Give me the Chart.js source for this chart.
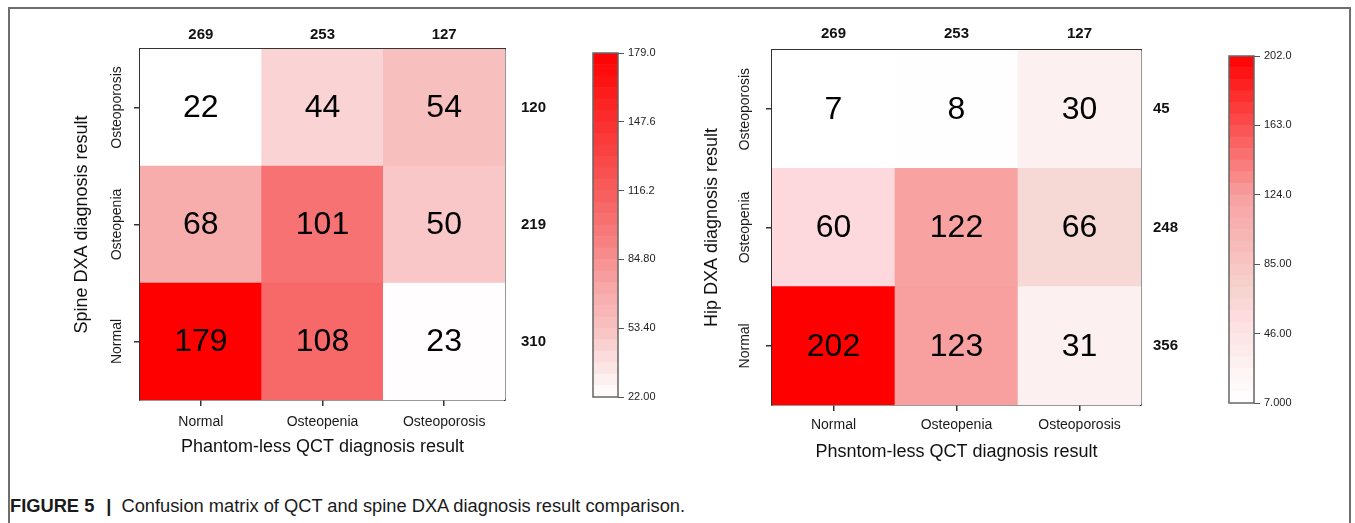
<!DOCTYPE html>
<html>
<head>
<meta charset="utf-8">
<script src="https://cdn.jsdelivr.net/npm/chart.js@4.4.1/dist/chart.umd.min.js"></script>
<style>
  html, body { margin:0; padding:0; background:#fff; width:1355px; height:523px; overflow:hidden; }
  body { position:relative; font-family:"Liberation Sans", Arial, sans-serif; }
  #frame { position:absolute; left:8px; top:7px; width:1339px; height:540px; border:2px solid #6e6e6e; border-bottom:none; background:#fff; }
  .cv { position:absolute; }
  #caption { position:absolute; left:10px; top:495px; font-size:18.3px; color:#1a1a1a; white-space:nowrap; }
  #caption b { font-weight:bold; }
  #caption .bar { font-weight:bold; margin:0 10px 0 12px; }
</style>
</head>
<body>
<div id="frame"></div>
<div class="cv" style="left:0;top:0;width:560px;height:480px;"><canvas id="h1"></canvas></div>
<div class="cv" style="left:580px;top:30px;width:90px;height:390px;"><canvas id="c1"></canvas></div>
<div class="cv" style="left:640px;top:0;width:580px;height:480px;"><canvas id="h2"></canvas></div>
<div class="cv" style="left:1216px;top:30px;width:90px;height:400px;"><canvas id="c2"></canvas></div>
<div id="caption"><b>FIGURE 5</b><span class="bar">|</span>Confusion matrix of QCT and spine DXA diagnosis result comparison.</div>
<script>
// ---------------- DATA ----------------
const qctCategories = ['Normal', 'Osteopenia', 'Osteoporosis'];     // columns (x)
const dxaCategories = ['Normal', 'Osteopenia', 'Osteoporosis'];     // rows (y, bottom to top)

// Spine DXA (rows) vs phantom-less QCT (columns)
const spineNormal       = [179, 108, 23];
const spineOsteopenia   = [68, 101, 50];
const spineOsteoporosis = [22, 44, 54];
const spineColTotals = ['269', '253', '127'];
const spineRowTotals = ['310', '219', '120'];
const spineBarTicks  = [22, 53.4, 84.8, 116.2, 147.6, 179];
const spineBarLabels = ['22.00', '53.40', '84.80', '116.2', '147.6', '179.0'];

// Hip DXA (rows) vs phantom-less QCT (columns)
const hipNormal       = [202, 123, 31];
const hipOsteopenia   = [60, 122, 66];
const hipOsteoporosis = [7, 8, 30];
const hipColTotals = ['269', '253', '127'];
const hipRowTotals = ['356', '248', '45'];
const hipBarTicks  = [7, 46, 85, 124, 163, 202];
const hipBarLabels = ['7.000', '46.00', '85.00', '124.0', '163.0', '202.0'];

// ---------------- STYLE ----------------
const FONT = '"Liberation Sans", Arial, sans-serif';
Chart.defaults.font.family = FONT;
Chart.defaults.color = '#1a1a1a';
Chart.defaults.animation = false;

// colour ramps (t in 0..1 -> rgb)
const spineRamp = [[0,255,255,255],[0.14,250,212,212],[0.2,248,192,192],[0.29,248,174,174],[0.5,247,115,115],[0.55,247,104,104],[1,255,0,0]];
const hipRamp   = [[0,255,255,255],[0.12,253,240,240],[0.27,253,216,220],[0.30,246,216,212],[0.59,248,162,162],[1,255,0,0]];

function rampColor(ramp, t) {
  t = Math.max(0, Math.min(1, t));
  for (let i = 1; i < ramp.length; i++) {
    if (t <= ramp[i][0]) {
      const a = ramp[i-1], b = ramp[i];
      const f = (t - a[0]) / (b[0] - a[0] || 1);
      const c = [1,2,3].map(k => Math.round(a[k] + (b[k]-a[k]) * f));
      return `rgb(${c[0]},${c[1]},${c[2]})`;
    }
  }
  const l = ramp[ramp.length-1];
  return `rgb(${l[1]},${l[2]},${l[3]})`;
}

const cellTextPlugin = {
  id: 'cellText',
  afterDatasetsDraw(chart) {
    const ctx = chart.ctx;
    ctx.save();
    ctx.font = `32px ${FONT}`;
    ctx.fillStyle = '#000';
    ctx.textAlign = 'center';
    ctx.textBaseline = 'middle';
    chart.data.datasets.forEach((ds, di) => {
      chart.getDatasetMeta(di).data.forEach((el, ci) => {
        const p = el.getCenterPoint();
        ctx.fillText(String(ds.cellValues[ci]), p.x, p.y + 1);
      });
    });
    ctx.restore();
  }
};

const frameRectPlugin = {
  id: 'frameRect',
  afterDraw(chart, args, opts) {
    if (!opts || !opts.on) return;
    const a = chart.chartArea, ctx = chart.ctx;
    ctx.save();
    ctx.strokeStyle = opts.color || '#555';
    ctx.lineWidth = opts.width || 1.5;
    ctx.strokeRect(a.left, a.top, a.right - a.left, a.bottom - a.top);
    ctx.restore();
  }
};

function heatmap(id, rows, rowLabels, colLabels, colTotals, rowTotals, ramp, vmin, vmax, yTitle, xTitle, L) {
  const centers = rowLabels.map((_, i) => i + 0.5);
  const datasets = rows.map((vals, r) => ({
    label: rowLabels[r],
    data: vals.map(() => 1),
    cellValues: vals,
    backgroundColor: vals.map(v => rampColor(ramp, (v - vmin) / (vmax - vmin))),
    borderWidth: 0,
    barPercentage: 1,
    categoryPercentage: 1,
    xAxisID: 'x',
    yAxisID: 'y'
  }));
  return new Chart(document.getElementById(id), {
    type: 'bar',
    data: { labels: colLabels, datasets },
    options: {
      responsive: true, maintainAspectRatio: false,
      layout: { padding: { left: L.padLeft, right: L.padRight, top: L.padTop, bottom: L.padBottom } },
      plugins: { legend: { display: false }, tooltip: { enabled: false }, frameRect: { on: false } },
      scales: {
        x: {
          type: 'category', position: 'bottom', stacked: true, offset: true,
          grid: { display: true, drawOnChartArea: false, drawTicks: true, tickLength: 6, offset: false, color: '#333', lineWidth: 1.5 },
          border: { display: true, color: '#333', width: 1.5 },
          ticks: { font: { size: 14 }, color: '#1a1a1a', padding: L.xPad, maxRotation: 0 },
          title: { display: true, text: xTitle, font: { size: 18 }, color: '#111', padding: 0 },
          afterFit: s => { s.height = L.xH; }
        },
        x2: {
          type: 'category', position: 'top', labels: colTotals, offset: true,
          grid: { display: false, drawTicks: false },
          border: { display: true, color: '#333', width: 1.5 },
          ticks: { font: { size: 15, weight: 'bold' }, color: '#111', padding: L.x2Pad, maxRotation: 0 },
          afterFit: s => { s.height = L.x2H; }
        },
        y: {
          type: 'linear', position: 'left', stacked: true, min: 0, max: rowLabels.length,
          afterBuildTicks: s => { s.ticks = centers.map(v => ({ value: v })); },
          grid: { display: true, drawOnChartArea: false, drawTicks: true, tickLength: 6, color: '#333', lineWidth: 1.5 },
          border: { display: true, color: '#333', width: 1.5 },
          ticks: { font: { size: 14 }, color: '#1a1a1a', minRotation: 90, maxRotation: 90, crossAlign: 'center',
                   padding: L.yPad, autoSkip: false, callback: (v, i) => rowLabels[i] },
          title: { display: true, text: yTitle, font: { size: 18 }, color: '#111', padding: 0 },
          afterFit: s => { s.width = L.yW; }
        },
        y2: {
          type: 'linear', position: 'right', min: 0, max: rowLabels.length,
          afterBuildTicks: s => { s.ticks = centers.map(v => ({ value: v })); },
          grid: { display: false, drawTicks: false },
          border: { display: true, color: '#333', width: 1.5 },
          ticks: { font: { size: 15, weight: 'bold' }, color: '#111', padding: L.y2Pad, autoSkip: false,
                   callback: (v, i) => rowTotals[i] },
          afterFit: s => { s.width = L.y2W; }
        }
      }
    },
    plugins: [cellTextPlugin]
  });
}

function colorbar(id, ramp, vmin, vmax, tickVals, tickLabels, L) {
  const nBands = 30;
  const step = (vmax - vmin) / nBands;
  const datasets = [];
  for (let i = 0; i < nBands; i++) {
    const lo = vmin + i * step, hi = lo + step;
    datasets.push({
      data: [[lo, hi]],
      backgroundColor: rampColor(ramp, (i + 0.5) / nBands),
      borderWidth: 0, barPercentage: 1, categoryPercentage: 1, grouped: false
    });
  }
  return new Chart(document.getElementById(id), {
    type: 'bar',
    data: { labels: [''], datasets },
    options: {
      responsive: true, maintainAspectRatio: false,
      layout: { padding: { left: L.padLeft, right: 0, top: L.padTop, bottom: L.padBottom } },
      plugins: { legend: { display: false }, tooltip: { enabled: false }, frameRect: { on: true, color: '#666', width: 1.5 } },
      scales: {
        x: { display: false, offset: true },
        y: {
          type: 'linear', position: 'right', min: vmin, max: vmax,
          afterBuildTicks: s => { s.ticks = tickVals.map(v => ({ value: v })); },
          grid: { display: true, drawOnChartArea: false, drawTicks: true, tickLength: 6, color: '#555', lineWidth: 1 },
          border: { display: false },
          ticks: { font: { size: 11 }, color: '#222', padding: 4, autoSkip: false, callback: (v, i) => tickLabels[i] },
          afterFit: s => { s.width = L.axisW; }
        }
      }
    },
    plugins: [frameRectPlugin]
  });
}

heatmap('h1', [spineNormal, spineOsteopenia, spineOsteoporosis], dxaCategories, qctCategories,
        spineColTotals, spineRowTotals, spineRamp, 22, 179,
        'Spine DXA diagnosis result', 'Phantom-less QCT diagnosis result',
        { padLeft: 71, padRight: 10, padTop: 15, padBottom: 22, yW: 69, y2W: 45, x2H: 34, xH: 58,
          xPad: 8, x2Pad: 5, yPad: -24, y2Pad: 16 });

colorbar('c1', spineRamp, 22, 179, spineBarTicks, spineBarLabels,
         { padLeft: 13, padTop: 23, padBottom: 23, axisW: 52 });

heatmap('h2', [hipNormal, hipOsteopenia, hipOsteoporosis], dxaCategories, qctCategories,
        hipColTotals, hipRowTotals, hipRamp, 7, 202,
        'Hip DXA diagnosis result', 'Phsntom-less QCT diagnosis result',
        { padLeft: 61, padRight: 10, padTop: 15, padBottom: 17, yW: 71, y2W: 69, x2H: 35, xH: 58,
          xPad: 6, x2Pad: 7, yPad: -20, y2Pad: 12 });

colorbar('c2', hipRamp, 7, 202, hipBarTicks, hipBarLabels,
         { padLeft: 13, padTop: 26, padBottom: 27, axisW: 52 });
</script>
</body>
</html>
